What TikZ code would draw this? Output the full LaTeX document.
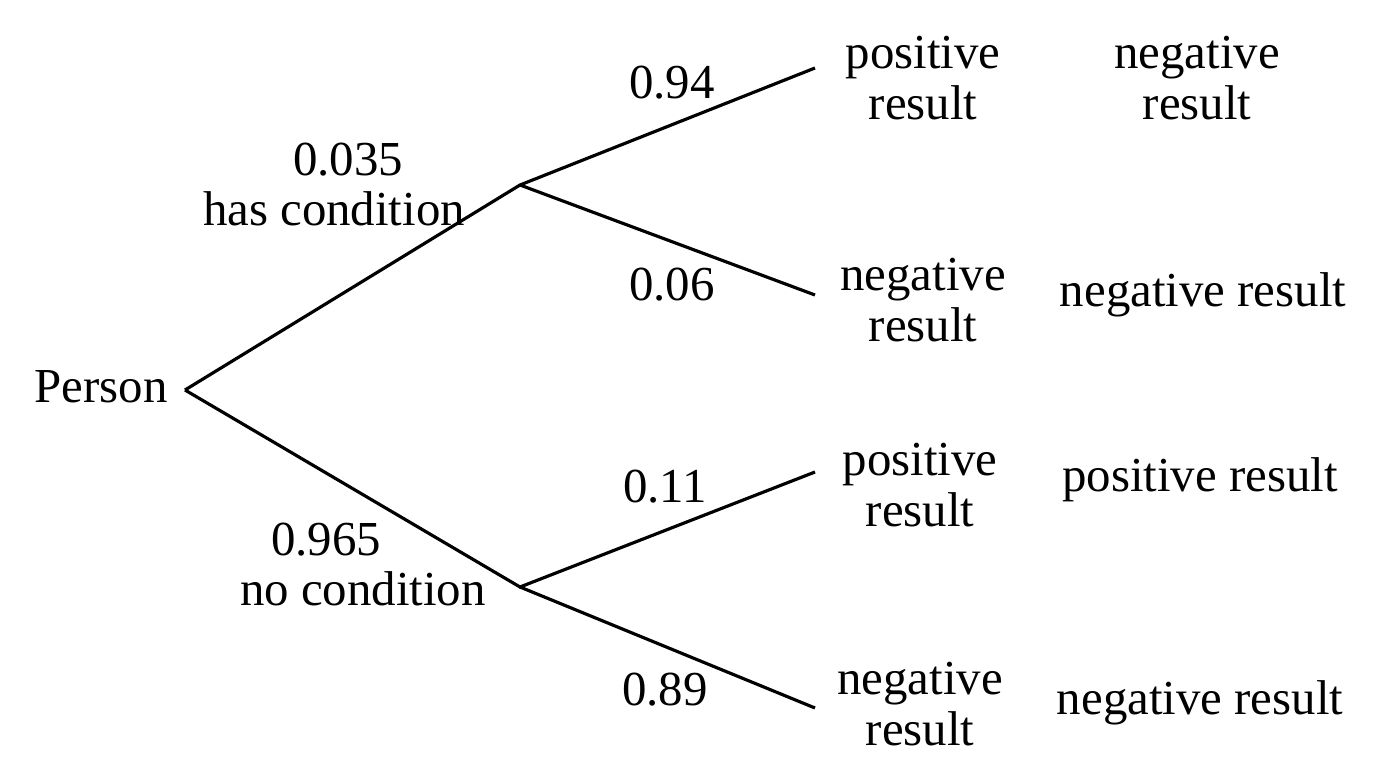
\documentclass[tikz,border=0pt]{standalone}
\usepackage{fontspec}
\setmainfont{Liberation Serif}
\usetikzlibrary{positioning}
\tikzset{
  ag/.style={line width=0.9pt},
  cim/.style={align=center,inner sep=1pt,font=\fontsize{13.9}{14.6}\selectfont},
}
\begin{document}
\begin{tikzpicture}
  \useasboundingbox (0,0) rectangle (13.76,-7.68);
  % branch points
  \coordinate (gy) at (1.85,-3.90);
  \coordinate (fa) at (5.20,-1.85);
  \coordinate (le) at (5.20,-5.87);
  \coordinate (v1) at (8.15,-0.68);
  \coordinate (v2) at (8.15,-2.95);
  \coordinate (v3) at (8.15,-4.72);
  \coordinate (v4) at (8.15,-7.08);
  \draw[ag] (gy) -- (fa) -- (v1);
  \draw[ag] (fa) -- (v2);
  \draw[ag] (gy) -- (le) -- (v3);
  \draw[ag] (le) -- (v4);
  % labels
  \node[cim] (szem) at (1.01,-3.87) {Person};
  \node[cim,anchor=base] (van0) at (3.48,-1.75) {0.035};
  \node[cim,anchor=base] (van1) at (3.34,-2.25) {has condition};
  \node[cim,anchor=base] (nincs0) at (3.26,-5.55) {0.965};
  \node[cim,anchor=base] (nincs1) at (3.63,-6.05) {no condition};
  \node[cim] (p1) at (6.72,-0.83) {0.94};
  \node[cim] (p2) at (6.72,-2.85) {0.06};
  \node[cim] (p3) at (6.65,-4.87) {0.11};
  \node[cim] (p4) at (6.65,-6.90) {0.89};
  \node[cim] (e1) at (9.23,-0.78) {positive\\result};
  \node[cim] (e2) at (9.23,-3.00) {negative\\result};
  \node[cim] (e3) at (9.20,-4.85) {positive\\result};
  \node[cim] (e4) at (9.20,-7.04) {negative\\result};
  \node[cim] (j1) at (11.97,-0.78) {negative\\result};
  \node[cim] (j2) at (12.03,-2.95) {negative result};
  \node[cim] (j3) at (12.00,-4.80) {positive result};
  \node[cim] (j4) at (12.00,-7.03) {negative result};
\end{tikzpicture}
\end{document}
